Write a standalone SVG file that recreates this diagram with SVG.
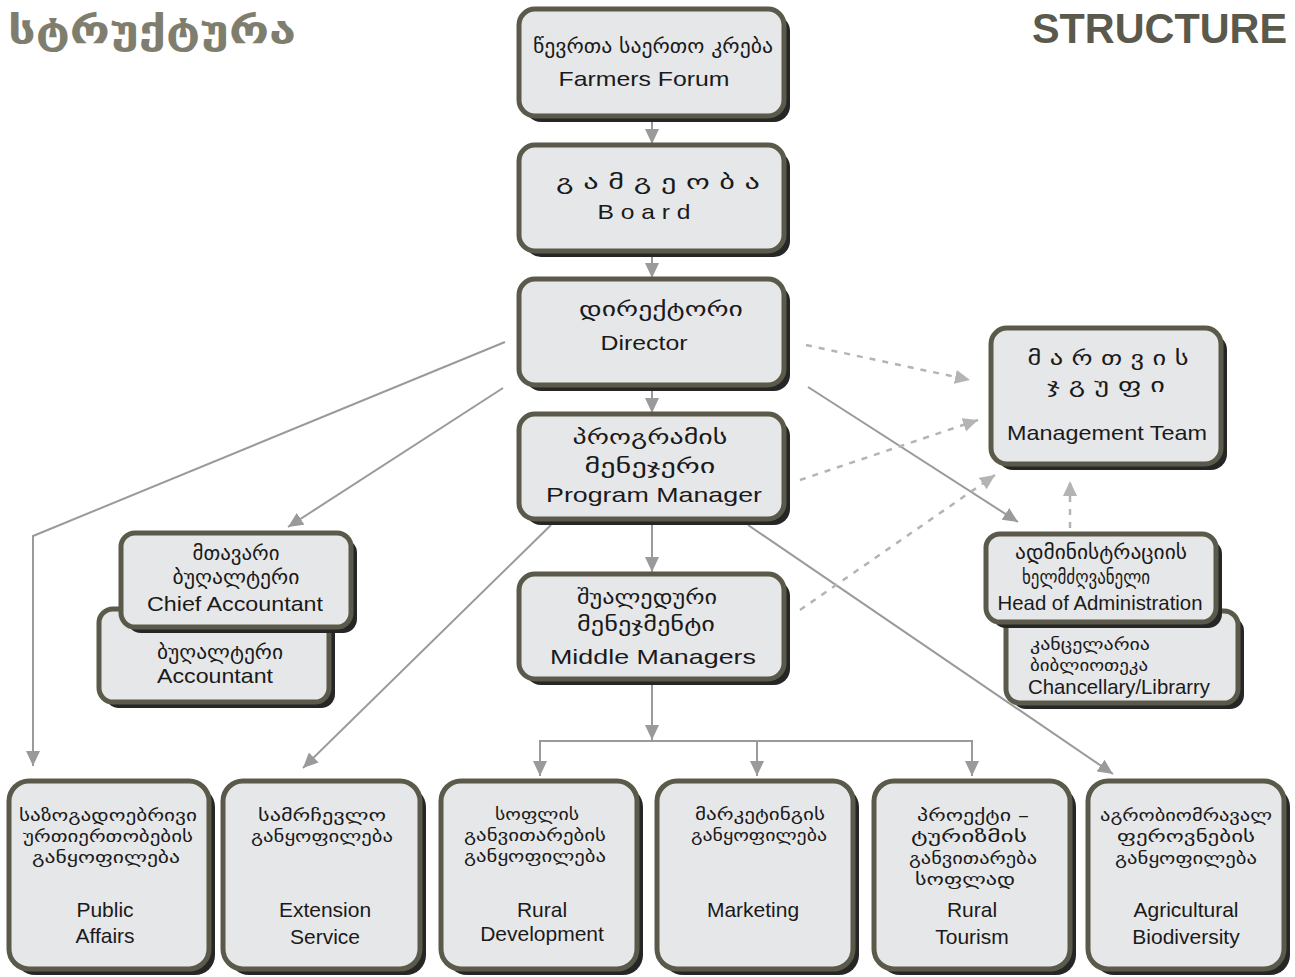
<svg xmlns="http://www.w3.org/2000/svg" width="1295" height="977" viewBox="0 0 1295 977">
<style>
.sh{fill:#262626}
.bx{fill:#e6e7e9;stroke:#5b5a4a;stroke-width:5}
.ka{font-family:"DejaVu Sans","Noto Sans",sans-serif;font-size:19px;fill:#1a1a1a;text-anchor:middle}
.ks{font-size:16px}
.en{font-family:"Liberation Sans",Arial,sans-serif;font-size:21px;fill:#1a1a1a;text-anchor:middle}
.ln{stroke:#9a9a9a;stroke-width:2;fill:none}
.dl{stroke:#b4b4b4;stroke-width:2.5;fill:none;stroke-dasharray:6 7}
</style>
<defs>
<marker id="ah" markerUnits="userSpaceOnUse" markerWidth="16" markerHeight="14" refX="15" refY="7" orient="auto">
<path d="M0,0 L15,7 L0,14 z" fill="#9a9a9a"/>
</marker>
<marker id="ahl" markerUnits="userSpaceOnUse" markerWidth="16" markerHeight="14" refX="15" refY="7" orient="auto">
<path d="M0,0 L15,7 L0,14 z" fill="#b4b4b4"/>
</marker>
</defs>
<rect width="1295" height="977" fill="#ffffff"/>

<text x="8" y="43" font-family="DejaVu Sans,sans-serif" font-weight="bold" font-size="38" fill="#7f7e6e" textLength="288" lengthAdjust="spacingAndGlyphs">სტრუქტურა</text>
<text x="1032" y="43" font-family="Liberation Sans,Arial,sans-serif" font-weight="bold" font-size="43" fill="#5a594b" textLength="255" lengthAdjust="spacingAndGlyphs">STRUCTURE</text>

<g id="connectors">
<line class="ln" x1="652" y1="118" x2="652" y2="144" marker-end="url(#ah)"/>
<line class="ln" x1="652" y1="253" x2="652" y2="278" marker-end="url(#ah)"/>
<line class="ln" x1="652" y1="387" x2="652" y2="413" marker-end="url(#ah)"/>
<line class="ln" x1="652" y1="521" x2="652" y2="572" marker-end="url(#ah)"/>
<line class="ln" x1="652" y1="681" x2="652" y2="740" marker-end="url(#ah)"/>
<line class="ln" x1="539" y1="741" x2="973" y2="741"/>
<line class="ln" x1="540" y1="741" x2="540" y2="776" marker-end="url(#ah)"/>
<line class="ln" x1="757" y1="741" x2="757" y2="776" marker-end="url(#ah)"/>
<line class="ln" x1="972" y1="741" x2="972" y2="776" marker-end="url(#ah)"/>
<polyline class="ln" points="505,342 33,536 33,766" marker-end="url(#ah)"/>
<line class="ln" x1="503" y1="388" x2="288" y2="527" marker-end="url(#ah)"/>
<line class="ln" x1="551" y1="525" x2="303" y2="768" marker-end="url(#ah)"/>
<line class="ln" x1="748" y1="525" x2="1113" y2="774" marker-end="url(#ah)"/>
<line class="ln" x1="808" y1="387" x2="1018" y2="522" marker-end="url(#ah)"/>
<line class="dl" x1="806" y1="345" x2="970" y2="380" marker-end="url(#ahl)"/>
<line class="dl" x1="800" y1="480" x2="978" y2="420" marker-end="url(#ahl)"/>
<line class="dl" x1="800" y1="610" x2="995" y2="475" marker-end="url(#ahl)"/>
<line class="dl" x1="1070" y1="528" x2="1070" y2="481" marker-end="url(#ahl)"/>
</g>

<g id="farmers-forum">
<rect class="sh" x="525" y="15" width="265" height="107" rx="16"/>
<rect class="bx" x="519" y="9" width="265" height="107" rx="16"/>
<text class="ka" x="653" y="53" textLength="240" lengthAdjust="spacingAndGlyphs">წევრთა საერთო კრება</text>
<text class="en" x="644" y="86" textLength="171" lengthAdjust="spacingAndGlyphs">Farmers Forum</text>
</g>

<g id="board">
<rect class="sh" x="525" y="151" width="265" height="106" rx="16"/>
<rect class="bx" x="519" y="145" width="265" height="106" rx="16"/>
<text class="ka" x="658" y="189" textLength="204" lengthAdjust="spacingAndGlyphs">გ ა მ გ ე ო ბ ა</text>
<text class="en" x="644" y="219" textLength="93" lengthAdjust="spacingAndGlyphs">B o a r d</text>
</g>

<g id="director">
<rect class="sh" x="525" y="285" width="265" height="106" rx="16"/>
<rect class="bx" x="519" y="279" width="265" height="106" rx="16"/>
<text class="ka" x="661" y="316" textLength="164" lengthAdjust="spacingAndGlyphs">დირექტორი</text>
<text class="en" x="644" y="350" textLength="87" lengthAdjust="spacingAndGlyphs">Director</text>
</g>

<g id="program-manager">
<rect class="sh" x="525" y="420" width="265" height="105" rx="16"/>
<rect class="bx" x="519" y="414" width="265" height="105" rx="16"/>
<text class="ka" x="650" y="444" textLength="155" lengthAdjust="spacingAndGlyphs">პროგრამის</text>
<text class="ka" x="650" y="473" textLength="131" lengthAdjust="spacingAndGlyphs">მენეჯერი</text>
<text class="en" x="654" y="502" textLength="216" lengthAdjust="spacingAndGlyphs">Program Manager</text>
</g>

<g id="middle-managers">
<rect class="sh" x="525" y="580" width="265" height="105" rx="16"/>
<rect class="bx" x="519" y="574" width="265" height="105" rx="16"/>
<text class="ka" x="647" y="604" textLength="140" lengthAdjust="spacingAndGlyphs">შუალედური</text>
<text class="ka" x="646" y="631" textLength="138" lengthAdjust="spacingAndGlyphs">მენეჯმენტი</text>
<text class="en" x="653" y="664" textLength="206" lengthAdjust="spacingAndGlyphs">Middle Managers</text>
</g>

<g id="management-team">
<rect class="sh" x="997" y="334" width="230" height="136" rx="16"/>
<rect class="bx" x="991" y="328" width="230" height="136" rx="16"/>
<text class="ka" x="1108" y="365" textLength="161" lengthAdjust="spacingAndGlyphs">მ ა რ თ ვ ი ს</text>
<text class="ka" x="1106" y="392" textLength="118" lengthAdjust="spacingAndGlyphs">ჯ გ უ ფ ი</text>
<text class="en" x="1107" y="440" textLength="200" lengthAdjust="spacingAndGlyphs">Management Team</text>
</g>

<g id="accountant">
<rect class="sh" x="105" y="615" width="230" height="93" rx="14"/>
<rect class="bx" x="99" y="609" width="230" height="93" rx="14"/>
<text class="ka" x="220" y="659" textLength="126" lengthAdjust="spacingAndGlyphs">ბუღალტერი</text>
<text class="en" x="215" y="683" textLength="116" lengthAdjust="spacingAndGlyphs">Accountant</text>
</g>

<g id="chief-accountant">
<rect class="sh" x="127" y="539" width="230" height="94" rx="14"/>
<rect class="bx" x="121" y="533" width="230" height="94" rx="14"/>
<text class="ka" x="236" y="560" textLength="87" lengthAdjust="spacingAndGlyphs">მთავარი</text>
<text class="ka" x="236" y="584" textLength="127" lengthAdjust="spacingAndGlyphs">ბუღალტერი</text>
<text class="en" x="235" y="611" textLength="176" lengthAdjust="spacingAndGlyphs">Chief Accountant</text>
</g>

<g id="chancellary">
<rect class="sh" x="1012" y="617" width="232" height="92" rx="14"/>
<rect class="bx" x="1006" y="611" width="232" height="92" rx="14"/>
<text class="ka ks" x="1090" y="650" textLength="120" lengthAdjust="spacingAndGlyphs">კანცელარია</text>
<text class="ka ks" x="1089" y="671" textLength="118" lengthAdjust="spacingAndGlyphs">ბიბლიოთეკა</text>
<text class="en" x="1119" y="694" font-size="18" textLength="182" lengthAdjust="spacingAndGlyphs">Chancellary/Librarry</text>
</g>

<g id="head-of-administration">
<rect class="sh" x="992" y="540" width="230" height="88" rx="14"/>
<rect class="bx" x="986" y="534" width="230" height="88" rx="14"/>
<text class="ka" x="1101" y="559" textLength="172" lengthAdjust="spacingAndGlyphs">ადმინისტრაციის</text>
<text class="ka" x="1086" y="584" textLength="128" lengthAdjust="spacingAndGlyphs">ხელმძღვანელი</text>
<text class="en" x="1100" y="610" font-size="19" textLength="205" lengthAdjust="spacingAndGlyphs">Head of Administration</text>
</g>

<g id="public-affairs">
<rect class="sh" x="15" y="787" width="200" height="188" rx="20"/>
<rect class="bx" x="9" y="781" width="200" height="188" rx="20"/>
<text class="ka ks" x="108" y="821" textLength="178" lengthAdjust="spacingAndGlyphs">საზოგადოებრივი</text>
<text class="ka ks" x="108" y="842" textLength="170" lengthAdjust="spacingAndGlyphs">ურთიერთობების</text>
<text class="ka ks" x="106" y="863" textLength="148" lengthAdjust="spacingAndGlyphs">განყოფილება</text>
<text class="en" x="105" y="917" font-size="19">Public</text>
<text class="en" x="105" y="943" font-size="19">Affairs</text>
</g>

<g id="extension-service">
<rect class="sh" x="229" y="787" width="197" height="188" rx="20"/>
<rect class="bx" x="223" y="781" width="197" height="188" rx="20"/>
<text class="ka ks" x="322" y="821" textLength="128" lengthAdjust="spacingAndGlyphs">სამრჩევლო</text>
<text class="ka ks" x="322" y="842" textLength="142" lengthAdjust="spacingAndGlyphs">განყოფილება</text>
<text class="en" x="325" y="917" font-size="19">Extension</text>
<text class="en" x="325" y="944" font-size="19">Service</text>
</g>

<g id="rural-development">
<rect class="sh" x="447" y="787" width="196" height="188" rx="20"/>
<rect class="bx" x="441" y="781" width="196" height="188" rx="20"/>
<text class="ka ks" x="537" y="820" textLength="84" lengthAdjust="spacingAndGlyphs">სოფლის</text>
<text class="ka ks" x="535" y="841" textLength="142" lengthAdjust="spacingAndGlyphs">განვითარების</text>
<text class="ka ks" x="535" y="862" textLength="142" lengthAdjust="spacingAndGlyphs">განყოფილება</text>
<text class="en" x="542" y="917" font-size="19">Rural</text>
<text class="en" x="542" y="941" font-size="19">Development</text>
</g>

<g id="marketing">
<rect class="sh" x="663" y="787" width="196" height="188" rx="20"/>
<rect class="bx" x="657" y="781" width="196" height="188" rx="20"/>
<text class="ka ks" x="760" y="820" textLength="130" lengthAdjust="spacingAndGlyphs">მარკეტინგის</text>
<text class="ka ks" x="759" y="841" textLength="136" lengthAdjust="spacingAndGlyphs">განყოფილება</text>
<text class="en" x="753" y="917" font-size="19">Marketing</text>
</g>

<g id="rural-tourism">
<rect class="sh" x="880" y="787" width="196" height="188" rx="20"/>
<rect class="bx" x="874" y="781" width="196" height="188" rx="20"/>
<text class="ka ks" x="973" y="821" textLength="112" lengthAdjust="spacingAndGlyphs">პროექტი –</text>
<text class="ka ks" x="969" y="842" textLength="116" lengthAdjust="spacingAndGlyphs">ტურიზმის</text>
<text class="ka ks" x="973" y="864" textLength="128" lengthAdjust="spacingAndGlyphs">განვითარება</text>
<text class="ka ks" x="965" y="885" textLength="100" lengthAdjust="spacingAndGlyphs">სოფლად</text>
<text class="en" x="972" y="917" font-size="19">Rural</text>
<text class="en" x="972" y="944" font-size="19">Tourism</text>
</g>

<g id="agricultural-biodiversity">
<rect class="sh" x="1094" y="787" width="196" height="188" rx="20"/>
<rect class="bx" x="1088" y="781" width="196" height="188" rx="20"/>
<text class="ka ks" x="1186" y="821" textLength="172" lengthAdjust="spacingAndGlyphs">აგრობიომრავალ</text>
<text class="ka ks" x="1186" y="842" textLength="138" lengthAdjust="spacingAndGlyphs">ფეროვნების</text>
<text class="ka ks" x="1186" y="864" textLength="142" lengthAdjust="spacingAndGlyphs">განყოფილება</text>
<text class="en" x="1186" y="917" font-size="19">Agricultural</text>
<text class="en" x="1186" y="944" font-size="19">Biodiversity</text>
</g>
</svg>
